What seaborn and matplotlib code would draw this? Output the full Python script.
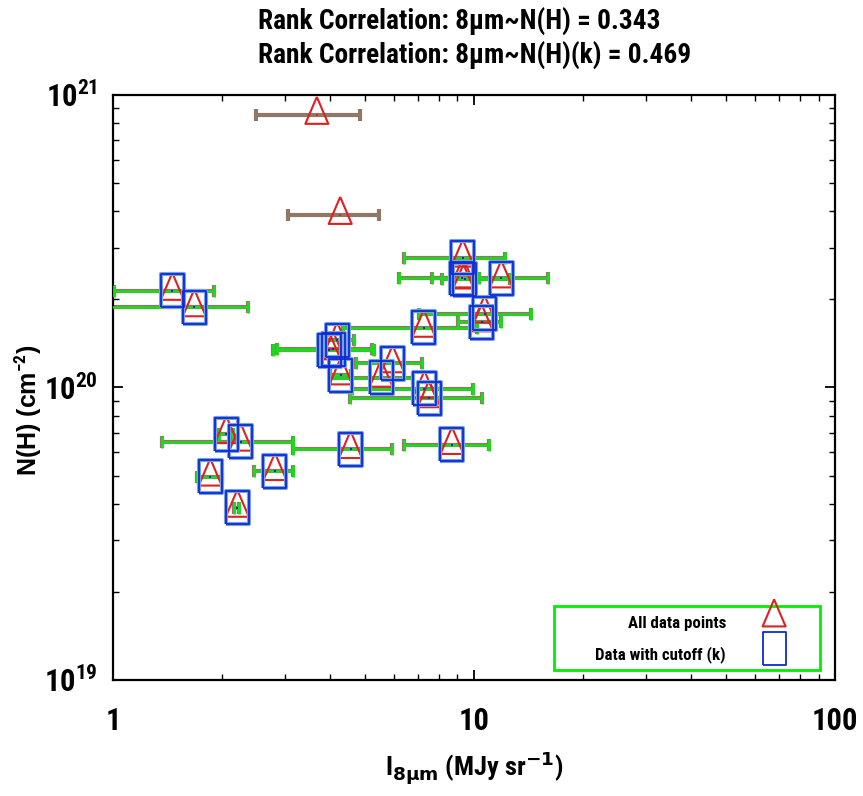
import os
import numpy as np
import pandas as pd
import seaborn as sns
import matplotlib
matplotlib.use("Agg")
import matplotlib.pyplot as plt
from matplotlib import font_manager
from matplotlib.font_manager import FontProperties
from matplotlib.ticker import LogLocator, FuncFormatter, NullFormatter

# 8 micron intensity (MJy sr^-1), left/right ends of the x error bars, N(H) (cm^-2)
i8 = [3.67, 4.26, 1.46, 1.68, 9.31, 9.25, 9.42, 11.9, 10.7, 10.5, 7.26, 5.95, 7.29,
      7.51, 4.18, 3.97, 4.07, 4.28, 5.53, 2.06, 2.26, 4.55, 1.86, 2.81, 2.21, 8.69]
i8_lo = [2.49, 3.05, 1.006, 0.96, 6.40, 6.20, 8.14, 7.64, 7.06, 9.01, 4.35, 4.70, 4.58,
         4.53, 3.71, 2.77, 2.84, 3.99, 3.99, 1.97, 1.37, 3.16, 1.71, 2.46, 2.17, 6.39]
i8_hi = [4.83, 5.46, 1.905, 2.37, 12.2, 10.3, 12.6, 16.0, 14.4, 11.9, 10.2, 7.20, 9.96,
         10.5, 4.66, 5.30, 5.21, 4.55, 6.79, 2.15, 3.16, 5.94, 2.01, 3.16, 2.24, 11.0]
nh = [8.55e20, 3.89e20, 2.14e20, 1.88e20, 2.78e20, 2.36e20, 2.34e20, 2.36e20, 1.79e20,
      1.67e20, 1.60e20, 1.21e20, 9.90e19, 9.19e19, 1.45e20, 1.34e20, 1.35e20, 1.10e20,
      1.08e20, 6.93e19, 6.53e19, 6.16e19, 4.96e19, 5.18e19, 3.88e19, 6.36e19]
# 1 = point survives the cutoff (k)
in_k = [0, 0, 1, 1, 1, 1, 1, 1, 1, 1, 1, 1, 1, 1, 1, 1, 1, 1, 1, 1, 1, 1, 1, 1, 1, 1]

title1 = "Rank Correlation: 8μm~N(H) = 0.343"
title2 = "Rank Correlation: 8μm~N(H)(k) = 0.469"
labels = ["All data points", "Data with cutoff (k)"]

df = pd.DataFrame({"i8": i8, "lo": i8_lo, "hi": i8_hi, "nh": nh, "k": in_k})
dk = df[df.k == 1]


# look for a narrow bold face (gnuplot used Arial Narrow); fall back to Liberation Sans
def narrow_font():
    best = None
    prefs = ["liberation sans narrow", "roboto condensed", "dejavu sans", "open sans", "noto sans"]
    for f in font_manager.fontManager.ttflist:
        n = f.name.lower()
        fn = os.path.basename(f.fname).lower()
        if not ("narrow" in n + fn or "condensed" in n + fn):
            continue
        if "mono" in n or "serif" in n or f.style != "normal":
            continue
        if not ("bold" in fn and "semi" not in fn and "extra" not in fn):
            continue
        rank = next((i for i, p in enumerate(prefs) if n.startswith(p)), len(prefs))
        if best is None or rank < best[0]:
            best = (rank, f.fname)
    if best:
        return FontProperties(fname=best[1])
    return FontProperties(family="Liberation Sans", weight="bold")


fp = narrow_font()
fam = fp.get_name()

sns.set_style("white")
plt.rcParams["font.family"] = ["Liberation Sans", "DejaVu Sans"]
plt.rcParams["font.weight"] = "bold"
for k in ["text.color", "axes.labelcolor", "xtick.color", "ytick.color"]:
    plt.rcParams[k] = "black"
plt.rcParams["mathtext.fontset"] = "custom"
plt.rcParams["mathtext.rm"] = fam + ":bold"
plt.rcParams["mathtext.it"] = fam + ":bold"
plt.rcParams["mathtext.bf"] = fam + ":bold"
plt.rcParams["mathtext.default"] = "rm"

fig = plt.figure(figsize=(8.63, 7.96), dpi=100)
ax = fig.add_axes([0.1309, 0.1457, 0.8367, 0.7350])
r = fig.canvas.get_renderer()


def sized(size):
    f = fp.copy()
    f.set_size(size)
    return f


def fit(txt, target_px):
    t = fig.text(0, 0, txt, fontproperties=sized(20))
    w = t.get_window_extent(r).width
    t.remove()
    return 20 * target_px / w


# gnuplot-like markers: triangle with centroid on the point, tall box
tri = [(0, 18), (-11.5, -9), (11.5, -9), (0, 18)]
box = [(-11.5, -16.5), (11.5, -16.5), (11.5, 16.5), (-11.5, 16.5), (-11.5, -16.5)]

# error bars: all data underneath, cutoff sample in green on top
ax.errorbar(df.i8, df.nh, xerr=[df.i8 - df.lo, df.hi - df.i8], fmt="none",
            ecolor="#8f7866", elinewidth=3, capsize=4, capthick=3, zorder=2)
ax.errorbar(dk.i8, dk.nh, xerr=[dk.i8 - dk.lo, dk.hi - dk.i8], fmt="none",
            ecolor="#19dd19", elinewidth=1.8, capsize=4, capthick=2, zorder=3)

sns.scatterplot(data=df, x="i8", y="nh", marker=tri, s=671, facecolor="none",
                edgecolor="#e02020", linewidth=1.5, zorder=4, ax=ax, legend=False)
sns.scatterplot(data=dk, x="i8", y="nh", marker=box, s=564, facecolor="none",
                edgecolor="#7aa2d8", linewidth=3, zorder=5, ax=ax, legend=False)
sns.scatterplot(data=dk, x="i8", y="nh", marker=box, s=564, facecolor="none",
                edgecolor="#0b2bd8", linewidth=1.3, zorder=6, ax=ax, legend=False)
# tiny centre dots
sns.scatterplot(data=df, x="i8", y="nh", marker="s", s=2, color="#e02020",
                linewidth=0, zorder=7, ax=ax, legend=False)
sns.scatterplot(data=dk, x="i8", y="nh", marker="s", s=2, color="#0b2bd8",
                linewidth=0, zorder=7, ax=ax, legend=False)

ax.set_xscale("log")
ax.set_yscale("log")
ax.set_xlim(1, 100)
ax.set_ylim(1e19, 1e21)

ax.xaxis.set_major_locator(LogLocator(base=10, numticks=10))
ax.xaxis.set_minor_locator(LogLocator(base=10, subs=np.arange(2, 10), numticks=20))
ax.yaxis.set_major_locator(LogLocator(base=10, numticks=10))
ax.yaxis.set_minor_locator(LogLocator(base=10, subs=np.arange(2, 10), numticks=20))
ax.xaxis.set_minor_formatter(NullFormatter())
ax.yaxis.set_minor_formatter(NullFormatter())
ax.xaxis.set_major_formatter(FuncFormatter(lambda v, p: f"{v:g}"))
ax.yaxis.set_major_formatter(FuncFormatter(lambda v, p: f"$10^{{{int(round(np.log10(v)))}}}$"))
ax.tick_params(which="both", direction="in", top=True, right=True, bottom=True, left=True,
               color="black")
ax.tick_params(which="major", length=7, width=1.3)
ax.tick_params(which="minor", length=4, width=1.0)
ax.tick_params(axis="x", which="major", pad=19)
ax.tick_params(axis="y", which="major", labelsize=22, pad=11)
for lab in ax.get_xticklabels():
    lab.set_fontproperties(sized(22))
for sp in ax.spines.values():
    sp.set_linewidth(1.6)
    sp.set_color("black")

ax.set_xlabel("I$_{8μm}$ (MJy sr$^{-1}$)", fontproperties=sized(19))
ax.xaxis.set_label_coords(0.5, -0.118)
ax.set_ylabel("N(H) (cm$^{-2}$)", fontsize=18, fontweight="bold", family="Liberation Sans")
ax.yaxis.set_label_coords(-0.096, 0.462)

tsize = fit(title1, 402)
fig.text(0.299, 0.962, title1, ha="left", va="baseline", fontproperties=sized(tsize))
fig.text(0.299, 0.9196, title2, ha="left", va="baseline", fontproperties=sized(tsize))

# legend: text right-justified, symbols on the right, green frame
lsize = fit(labels[1], 130)
lpx = lsize * 100 / 72
bp = max((35 - 1.2 * lpx) / 2, 4) / lpx
h_all = ax.collections[2]
h_k = ax.collections[4]
leg = ax.legend([h_all, h_k], labels, markerfirst=False,
                loc="lower right", bbox_to_anchor=(0.9792, 0.0171), borderaxespad=0,
                fancybox=False, edgecolor="#00ee00", framealpha=1,
                prop=sized(lsize), borderpad=bp, handletextpad=44 / lpx,
                handlelength=77 / lpx, handleheight=1.2,
                labelspacing=(34 - 1.2 * lpx) / lpx, scatteryoffsets=[0.6])
leg.get_frame().set_linewidth(2)
fig.canvas.draw()
for t in leg.get_texts():
    t.set_position((34.5, 0))

fig.savefig("out.png", dpi=100)
